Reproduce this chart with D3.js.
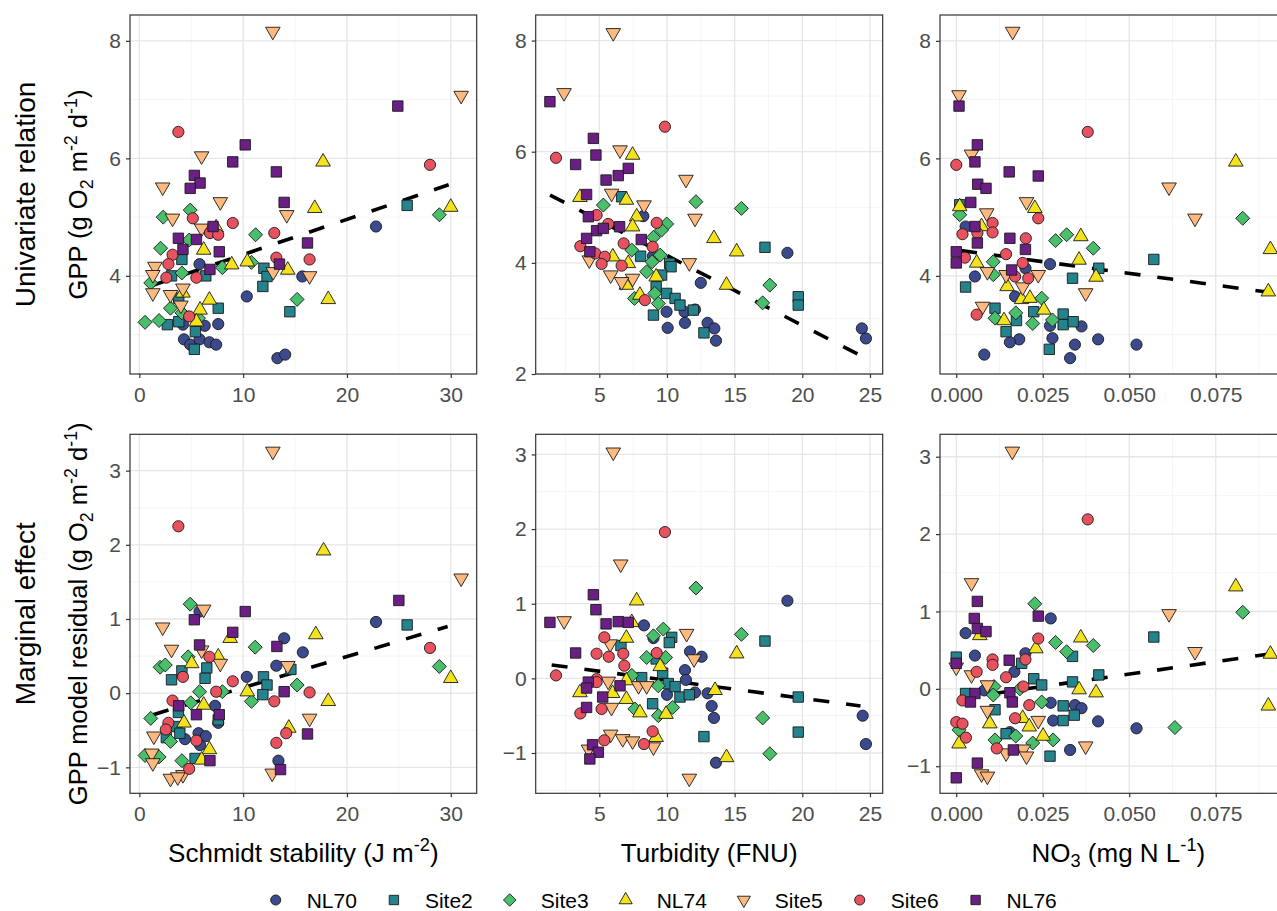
<!DOCTYPE html>
<html>
<head>
<meta charset="utf-8">
<script src="https://cdn.jsdelivr.net/npm/d3@7"></script>
<style>
  body { margin: 0; background: #fff; }
  text { font-family: "Liberation Sans", Arial, sans-serif; white-space: pre; }
</style>
</head>
<body>
<svg id="chart" width="1277" height="911"></svg>
<script>
// sites, in legend order
const siteNames = ["NL70", "Site2", "Site3", "NL74", "Site5", "Site6", "NL76"];
const siteFills = ["#3b4a8c", "#25838e", "#4abf6b", "#f3e21c", "#fdb97e", "#e8525f", "#6b1f84"];
const siteShapes = ["circle", "square", "diamond", "triangle", "triangleDown", "circle", "square"];

// tick values
const schmidtTicks = [0, 10, 20, 30];
const turbidityTicks = [5, 10, 15, 20, 25];
const no3Ticks = [0, 0.025, 0.05, 0.075];
const gppTicks = [4, 6, 8];
const gppTicksTurb = [2, 4, 6, 8];
const residTicks = [-1, 0, 1, 2, 3];

// linear fits (start, end)
const schmidtFit = [[1.3, 3.84], [29.8, 5.55]];
const turbidityFit = [[1.36, 5.22], [24.4, 2.32]];
const no3Fit = [[0.0014, 4.43], [0.0905, 3.72]];
const schmidtResFit = [[1.33, -0.29], [29.7, 0.9]];
const turbidityResFit = [[1.48, 0.18], [24.3, -0.37]];
const no3ResFit = [[0.0014, -0.12], [0.0905, 0.45]];

// [site, x, y]
const schmidtGPP = [
  ["Site5",12.86,8.16],["Site5",31.0,7.07],["NL76",24.9,6.89],["Site6",3.76,6.45],["NL76",10.2,6.23],
  ["Site5",6.0,6.04],["NL74",17.7,5.94],["NL76",9.0,5.94],["Site6",28.0,5.89],["NL76",13.2,5.77],
  ["NL76",5.3,5.71],["NL76",5.85,5.58],["NL76",4.9,5.49],["Site5",2.25,5.51],["NL76",13.95,5.25],
  ["Site5",7.8,5.26],["NL74",16.9,5.15],["Site2",25.8,5.2],["NL74",30.0,5.17],["Site3",28.9,5.04],
  ["Site5",14.2,5.04],["Site3",2.3,5.0],["Site5",3.2,4.98],["Site3",4.9,5.12],["Site6",5.15,4.98],
  ["Site6",9.0,4.9],["Site5",6.0,4.81],["NL76",7.1,4.84],["NL74",7.4,4.82],["Site6",6.8,4.73],
  ["Site6",7.6,4.70],["NL70",22.8,4.84],["Site6",13.0,4.73],["NL76",3.76,4.64],["Site3",4.8,4.61],
  ["NL76",5.5,4.62],["Site3",11.2,4.70],["NL76",16.2,4.56],["Site3",2.05,4.47],["NL74",6.2,4.44],
  ["NL76",4.2,4.45],["NL76",7.7,4.41],["Site6",3.2,4.36],["Site2",4.1,4.28],["Site6",16.4,4.28],
  ["Site6",13.2,4.31],["NL70",5.8,4.2],["Site6",2.8,4.2],["NL76",13.5,4.2],["NL76",6.8,4.11],
  ["Site3",8.0,4.14],["NL74",8.9,4.19],["Site3",10.8,4.23],["NL74",10.4,4.24],["Site2",12.0,4.13],
  ["Site2",12.3,3.99],["Site2",11.9,3.82],["NL74",14.3,4.10],["Site5",12.9,4.07],["NL70",15.7,3.99],
  ["Site5",16.4,4.0],["Site5",1.5,4.16],["Site5",1.3,4.02],["Site6",2.6,3.97],["Site2",3.1,4.0],
  ["Site3",4.1,4.05],["Site6",5.5,3.97],["Site2",6.4,4.0],["Site3",1.1,3.88],["Site5",1.3,3.71],
  ["Site5",4.2,3.79],["Site5",3.0,3.68],["NL74",4.2,3.71],["Site2",3.8,3.62],["NL74",6.75,3.59],
  ["NL70",10.35,3.65],["NL74",18.2,3.6],["Site3",15.2,3.6],["Site3",3.0,3.45],["Site3",4.1,3.37],
  ["Site2",7.6,3.45],["Site2",14.5,3.39],["Site5",4.0,3.50],["NL74",5.85,3.42],["Site3",0.55,3.21],
  ["Site3",1.9,3.24],["Site2",2.7,3.17],["Site2",3.8,3.22],["Site6",4.8,3.31],["Site3",5.7,3.28],
  ["NL70",4.2,3.17],["NL70",6.3,3.15],["NL70",7.6,3.18],["Site2",5.4,3.05],["NL74",5.5,3.22],
  ["NL70",4.3,2.92],["NL70",4.9,2.83],["NL70",5.8,2.92],["NL70",6.75,2.87],["NL70",7.4,2.83],
  ["Site2",5.3,2.75],["NL70",13.3,2.6],["NL70",14.05,2.66]
];

const turbidityGPP = [
  ["Site5",6.03,8.14],["Site5",2.39,7.06],["NL76",1.35,6.9],["Site6",9.85,6.45],["NL76",4.56,6.24],
  ["NL76",4.75,5.94],["Site6",1.8,5.89],["Site5",6.53,6.03],["NL74",7.46,5.94],["NL76",3.25,5.77],
  ["NL76",7.14,5.7],["NL76",6.4,5.57],["NL76",5.5,5.49],["Site5",11.4,5.5],["Site5",5.91,5.25],
  ["NL76",4.06,5.23],["NL74",3.57,5.18],["Site2",6.65,5.19],["NL74",7.0,5.13],["Site3",12.14,5.1],
  ["Site3",15.5,4.98],["Site3",5.3,5.04],["Site5",8.3,5.04],["Site6",4.8,4.86],["Site6",5.66,4.7],
  ["Site5",12.07,4.8],["NL70",8.25,4.84],["NL76",4.19,4.83],["NL74",7.76,4.83],["Site6",9.24,4.72],
  ["Site3",9.98,4.7],["Site3",9.6,4.59],["Site3",9.0,4.46],["NL76",4.8,4.58],["NL76",5.3,4.62],
  ["NL76",6.5,4.65],["NL74",7.46,4.65],["NL74",13.47,4.44],["NL76",4.06,4.44],["NL76",8.1,4.42],
  ["Site6",3.6,4.3],["Site6",6.8,4.35],["Site6",8.94,4.29],["Site3",7.4,4.23],["Site3",9.5,4.14],
  ["NL74",15.15,4.2],["Site2",17.24,4.28],["NL70",18.9,4.18],["NL76",4.3,4.2],["Site6",4.7,4.17],
  ["Site6",5.4,4.11],["NL74",6.0,4.11],["NL70",8.96,4.12],["Site2",8.05,4.12],["Site6",5.17,3.98],
  ["Site6",6.65,3.95],["NL74",7.14,3.99],["Site5",4.26,4.05],["Site2",10.2,3.99],["Site2",10.3,3.93],
  ["Site5",11.65,4.0],["Site3",8.5,3.84],["Site3",8.9,4.02],["Site2",9.6,3.78],["Site5",5.84,3.78],
  ["Site5",7.46,3.72],["NL74",9.2,3.75],["NL70",12.5,3.64],["NL74",14.4,3.6],["NL74",7.0,3.6],
  ["Site5",6.65,3.66],["Site3",17.6,3.6],["Site2",9.2,3.57],["Site3",9.1,3.45],["Site3",9.36,3.27],
  ["Site3",7.6,3.36],["Site6",8.37,3.33],["NL74",8.0,3.42],["Site2",9.97,3.45],["Site2",10.6,3.36],
  ["Site2",10.96,3.24],["Site2",11.95,3.15],["Site2",19.7,3.39],["Site2",19.7,3.24],["Site3",17.07,3.28],
  ["NL70",9.97,3.12],["NL70",11.3,3.12],["NL70",12.07,3.16],["Site2",9.0,3.06],["NL70",10.05,2.83],
  ["NL70",11.33,2.92],["NL70",13.0,2.92],["NL70",13.5,2.82],["NL70",13.62,2.6],["Site2",12.73,2.74],
  ["NL70",24.4,2.82],["NL70",24.7,2.64]
];

const no3GPP = [
  ["Site5",0.0163,8.16],["Site5",0.0008,7.08],["NL76",0.0008,6.89],["Site6",0.038,6.45],["NL76",0.0061,6.23],
  ["Site5",0.0044,6.07],["NL76",0.0054,5.94],["Site6",0.0,5.89],["NL74",0.0808,5.94],["NL76",0.0153,5.77],
  ["NL76",0.0237,5.7],["NL76",0.0062,5.56],["NL76",0.0086,5.49],["Site5",0.0615,5.51],["NL76",0.0042,5.25],
  ["Site2",0.001,5.21],["NL74",0.001,5.18],["Site3",0.001,5.04],["Site5",0.0203,5.26],["NL74",0.0227,5.15],
  ["Site6",0.0237,4.98],["Site5",0.0088,5.07],["Site5",0.069,4.98],["Site3",0.0828,4.98],["Site6",0.0105,4.9],
  ["Site6",0.0105,4.74],["NL70",0.0027,4.84],["NL76",0.0054,4.84],["NL74",0.0073,4.84],["Site6",0.0018,4.71],
  ["Site6",0.0061,4.73],["NL76",0.0061,4.56],["Site3",0.0287,4.6],["Site3",0.0319,4.7],["NL74",0.036,4.67],
  ["Site6",0.0201,4.64],["NL76",0.0155,4.64],["Site3",0.0396,4.47],["NL76",0.02,4.45],["NL76",0.0,4.41],
  ["NL76",0.0,4.22],["Site6",0.0025,4.31],["Site6",0.0144,4.37],["Site2",0.0571,4.28],["NL74",0.0908,4.45],
  ["NL74",0.0059,4.22],["NL74",0.0355,4.27],["Site3",0.0107,4.24],["NL70",0.0271,4.2],["Site6",0.0192,4.22],
  ["Site6",0.017,3.99],["Site6",0.0208,3.96],["NL76",0.016,4.1],["NL70",0.02,4.13],["Site5",0.009,4.07],
  ["Site5",0.0144,4.02],["Site5",0.0237,4.02],["Site3",0.0107,4.02],["Site2",0.0412,4.13],["Site2",0.0336,3.96],
  ["NL74",0.0404,3.98],["NL70",0.0054,3.99],["Site2",0.0027,3.81],["NL74",0.0147,3.82],["Site5",0.0192,3.81],
  ["Site5",0.0374,3.71],["NL70",0.017,3.65],["NL74",0.0189,3.6],["NL74",0.0213,3.62],["Site3",0.0247,3.62],
  ["Site5",0.0076,3.48],["Site2",0.0112,3.45],["Site3",0.0112,3.28],["Site6",0.0059,3.34],["Site3",0.0172,3.37],
  ["Site2",0.0224,3.39],["Site2",0.0309,3.35],["Site2",0.0309,3.17],["Site2",0.0338,3.22],["NL74",0.0253,3.42],
  ["NL74",0.0138,3.24],["Site3",0.0278,3.25],["Site3",0.0221,3.19],["Site2",0.0174,3.24],["Site2",0.0144,3.05],
  ["NL70",0.0271,3.15],["NL70",0.0362,3.14],["NL70",0.0182,2.92],["NL70",0.0155,2.87],["NL70",0.0278,2.94],
  ["NL70",0.041,2.92],["NL70",0.0521,2.83],["Site2",0.0269,2.75],["NL70",0.0343,2.83],["NL70",0.0329,2.6],
  ["NL70",0.0081,2.66],["NL74",0.0902,3.73]
];

const schmidtRes = [
  ["Site5",12.86,3.26],["Site6",3.76,2.25],["NL74",17.75,1.92],["Site5",31.0,1.55],["NL76",25.0,1.25],
  ["Site3",4.9,1.2],["NL70",5.8,1.1],["Site5",6.2,1.13],["NL76",10.2,1.1],["NL76",5.3,0.99],
  ["NL70",22.8,0.96],["Site2",25.8,0.92],["Site5",2.25,0.89],["NL76",9.0,0.82],["NL74",8.75,0.74],
  ["NL74",17.0,0.79],["NL70",13.95,0.74],["Site6",28.0,0.61],["Site3",11.16,0.62],["NL76",13.25,0.63],
  ["Site5",3.1,0.59],["NL76",5.8,0.65],["Site5",6.0,0.58],["NL70",15.75,0.55],["Site3",4.7,0.49],
  ["Site6",6.75,0.49],["NL74",7.6,0.49],["Site5",7.8,0.4],["NL74",5.05,0.4],["Site3",2.0,0.35],
  ["Site3",2.5,0.38],["Site2",4.1,0.3],["Site2",6.5,0.34],["Site3",28.9,0.36],["NL74",30.0,0.2],
  ["NL70",13.2,0.37],["Site5",14.3,0.37],["Site2",14.6,0.32],["Site2",3.1,0.18],["Site6",4.2,0.22],
  ["Site2",6.33,0.2],["NL70",10.35,0.22],["Site6",9.0,0.16],["Site2",11.96,0.22],["Site2",12.3,0.11],
  ["Site2",11.9,-0.02],["Site3",15.2,0.11],["Site3",5.8,0.02],["Site6",7.4,0.02],["Site3",8.0,0.02],
  ["NL74",10.4,0.02],["NL76",13.95,0.02],["Site6",16.4,0.01],["Site3",10.8,-0.11],["Site6",3.2,-0.1],
  ["Site6",13.0,-0.11],["Site3",4.95,-0.13],["NL74",6.2,-0.16],["NL74",18.2,-0.11],["NL70",7.3,-0.17],
  ["NL76",3.8,-0.17],["Site2",3.76,-0.26],["Site5",16.4,-0.34],["NL76",5.5,-0.29],["NL76",7.7,-0.29],
  ["NL70",7.6,-0.4],["Site2",7.6,-0.36],["Site3",1.1,-0.34],["NL74",4.3,-0.4],["Site6",2.8,-0.4],
  ["Site6",2.55,-0.49],["Site2",3.6,-0.45],["Site2",3.9,-0.54],["NL74",14.4,-0.47],["Site6",14.15,-0.54],
  ["NL76",16.2,-0.55],["Site5",1.4,-0.58],["Site2",2.6,-0.6],["NL70",5.7,-0.54],["NL70",6.4,-0.58],
  ["NL70",4.4,-0.62],["Site6",5.5,-0.64],["Site3",3.0,-0.65],["NL70",5.85,-0.7],["Site6",13.2,-0.67],
  ["NL74",6.75,-0.76],["Site3",0.55,-0.84],["Site3",1.9,-0.86],["Site5",1.2,-0.81],["Site5",1.3,-0.94],
  ["Site3",4.1,-0.91],["Site2",5.37,-0.88],["NL74",6.0,-0.9],["NL76",6.8,-0.91],["NL70",13.4,-0.91],
  ["Site6",4.8,-1.02],["Site5",3.0,-1.15],["Site5",4.2,-1.1],["Site5",3.7,-1.13],["Site5",12.8,-1.08],
  ["NL76",13.6,-1.03]
];

const turbidityRes = [
  ["Site5",6.03,3.03],["Site6",9.85,1.96],["Site5",6.58,1.53],["Site3",12.14,1.21],["NL76",4.56,1.12],
  ["NL70",18.9,1.04],["NL74",7.76,1.04],["NL76",4.75,0.92],["NL76",1.35,0.75],["Site5",2.4,0.77],
  ["NL76",5.5,0.73],["NL76",6.4,0.76],["NL76",7.14,0.75],["NL74",7.4,0.75],["NL70",8.3,0.71],
  ["Site5",11.45,0.6],["Site3",9.73,0.66],["Site3",9.0,0.57],["NL70",9.0,0.54],["Site2",10.35,0.55],
  ["Site2",10.17,0.48],["Site3",15.5,0.59],["Site2",17.24,0.5],["Site6",5.37,0.55],["NL74",7.0,0.54],
  ["Site5",5.8,0.46],["Site2",6.6,0.44],["NL70",11.7,0.36],["Site6",4.8,0.33],["Site6",5.7,0.29],
  ["Site6",6.77,0.33],["Site6",9.24,0.34],["NL74",15.15,0.33],["NL70",12.56,0.29],["NL76",3.25,0.34],
  ["Site3",8.5,0.28],["Site3",9.9,0.28],["Site2",9.2,0.26],["Site5",12.0,0.26],["Site6",6.85,0.17],
  ["NL74",9.5,0.16],["NL70",11.33,0.11],["Site2",9.68,0.07],["Site3",7.4,0.04],["Site6",1.8,0.04],
  ["Site2",8.13,0.01],["Site6",4.8,-0.01],["Site6",4.8,-0.05],["NL70",11.4,-0.02],["Site5",5.66,-0.04],
  ["NL76",4.19,-0.05],["NL76",4.06,-0.13],["NL76",6.53,-0.1],["NL74",7.0,-0.03],["Site5",7.9,-0.1],
  ["Site5",8.5,-0.1],["Site2",10.1,-0.07],["Site2",10.6,-0.11],["Site3",9.36,-0.1],["NL74",13.55,-0.16],
  ["NL70",12.07,-0.19],["NL70",13.0,-0.2],["NL70",10.0,-0.22],["Site2",10.96,-0.25],["Site2",11.65,-0.22],
  ["NL74",3.57,-0.19],["NL74",5.98,-0.2],["NL76",5.25,-0.25],["Site5",5.9,-0.39],["NL74",7.0,-0.28],
  ["Site2",19.7,-0.25],["Site2",8.94,-0.34],["NL70",13.3,-0.37],["NL76",4.06,-0.39],["Site6",5.17,-0.41],
  ["Site3",7.63,-0.41],["Site3",10.42,-0.39],["Site6",3.6,-0.47],["NL74",8.0,-0.46],["NL74",9.93,-0.48],
  ["Site3",9.36,-0.5],["NL70",24.46,-0.5],["NL70",13.47,-0.53],["Site3",17.07,-0.53],["Site6",8.94,-0.71],
  ["Site2",12.73,-0.78],["Site5",5.84,-0.75],["Site5",6.73,-0.81],["Site5",7.46,-0.84],["NL74",9.2,-0.79],
  ["Site5",9.0,-0.92],["Site6",5.37,-0.83],["Site6",8.3,-0.88],["Site2",19.7,-0.72],["NL70",24.7,-0.88],
  ["NL76",4.5,-0.89],["NL76",4.93,-0.99],["NL76",4.3,-1.08],["Site5",4.2,-0.95],["Site3",17.6,-1.01],
  ["NL74",14.4,-1.06],["NL70",13.62,-1.13],["Site5",11.65,-1.34]
];

const no3Res = [
  ["Site5",0.0162,3.07],["Site6",0.038,2.19],["Site5",0.0044,1.37],["NL74",0.0808,1.32],["NL76",0.0061,1.13],
  ["Site3",0.0227,1.1],["Site3",0.0828,0.99],["Site5",0.0615,0.97],["NL76",0.0052,0.91],["NL70",0.0273,0.91],
  ["NL76",0.0237,0.94],["NL70",0.0027,0.72],["NL76",0.0061,0.78],["NL76",0.0086,0.74],["NL74",0.0068,0.69],
  ["Site2",0.0571,0.67],["NL74",0.036,0.66],["Site6",0.0237,0.65],["Site3",0.0287,0.6],["Site3",0.0319,0.48],
  ["Site3",0.0396,0.56],["NL74",0.023,0.52],["Site5",0.069,0.48],["NL74",0.0908,0.45],["NL70",0.0054,0.43],
  ["Site2",0.0,0.41],["NL76",0.0,0.33],["Site5",0.0,0.28],["Site2",0.0336,0.42],["Site6",0.0105,0.38],
  ["Site6",0.0105,0.31],["NL76",0.0153,0.37],["NL70",0.02,0.46],["Site6",0.02,0.38],["Site2",0.0189,0.33],
  ["Site6",0.0059,0.22],["NL70",0.0168,0.22],["Site5",0.0044,0.18],["Site2",0.0412,0.18],["Site6",0.0144,0.15],
  ["Site2",0.0224,0.13],["Site2",0.0247,0.05],["Site2",0.0336,0.09],["NL74",0.0355,-0.01],["NL74",0.0404,-0.05],
  ["Site6",0.0194,0.03],["Site5",0.009,0.05],["Site3",0.0109,0.03],["Site3",0.0184,0.0],["NL70",0.0081,-0.02],
  ["NL76",0.0155,-0.05],["Site2",0.0027,-0.06],["NL76",0.0054,-0.06],["Site3",0.0107,-0.08],["Site6",0.0018,-0.15],
  ["NL76",0.0041,-0.17],["NL76",0.0162,-0.17],["Site3",0.0247,-0.17],["NL70",0.0273,-0.18],["Site6",0.0211,-0.21],
  ["Site2",0.0309,-0.22],["Site2",0.0341,-0.34],["Site2",0.0309,-0.41],["NL70",0.0343,-0.21],["NL70",0.0362,-0.25],
  ["Site2",0.0112,-0.27],["Site5",0.009,-0.28],["Site5",0.0237,-0.41],["NL74",0.0192,-0.38],["Site6",0.017,-0.38],
  ["NL70",0.028,-0.41],["NL70",0.041,-0.42],["Site6",0.0,-0.43],["Site6",0.0018,-0.45],["NL74",0.0097,-0.45],
  ["NL74",0.0211,-0.49],["Site3",0.0008,-0.53],["NL70",0.0521,-0.51],["Site3",0.0632,-0.5],["Site6",0.0028,-0.63],
  ["NL70",0.0155,-0.56],["Site2",0.0144,-0.58],["Site3",0.0172,-0.61],["NL74",0.0251,-0.61],["Site3",0.0112,-0.66],
  ["Site3",0.0221,-0.7],["Site3",0.028,-0.66],["Site5",0.0374,-0.74],["NL74",0.0008,-0.71],["Site6",0.0117,-0.77],
  ["Site5",0.0144,-0.83],["Site5",0.0194,-0.78],["Site5",0.0203,-0.87],["NL76",0.0165,-0.79],["NL70",0.0329,-0.79],
  ["Site2",0.0271,-0.87],["NL76",0.0061,-0.96],["Site5",0.0073,-1.1],["Site5",0.009,-1.13],["NL76",0.0,-1.15],
  ["NL74",0.0902,-0.22]
];

// axis titles: [text, "n" | "sup" | "sub"]
const gppTitle = [["GPP (g O","n"],["2","sub"],[" m","n"],["-2","sup"],[" d","n"],["-1","sup"],[")","n"]];
const residTitle = [["GPP model residual (g O","n"],["2","sub"],[" m","n"],["-2","sup"],[" d","n"],["-1","sup"],[")","n"]];
const xTitles = [
  [["Schmidt stability (J m","n"],["-2","sup"],[")","n"]],
  [["Turbidity (FNU)","n"]],
  [["NO","n"],["3","sub"],[" (mg N L","n"],["-1","sup"],[")","n"]]
];
const rowTitles = ["Univariate relation", "Marginal effect"];

// layout
const colX = [130, 535.7, 940];
const colW = [346.7, 347, 356.7];
const rowY = [15, 434.3];
const rowH = 359;

const fmtInt = d3.format("d");
const fmtNo3 = d3.format(".3f");

const panels = [
  { col: 0, row: 0, data: schmidtGPP, fit: schmidtFit, xDom: [-0.9, 32.5], yDom: [2.33, 8.44], xt: schmidtTicks, yt: gppTicks, fx: fmtInt },
  { col: 1, row: 0, data: turbidityGPP, fit: turbidityFit, xDom: [0.3, 25.94], yDom: [2.0, 8.46], xt: turbidityTicks, yt: gppTicksTurb, fx: fmtInt },
  { col: 2, row: 0, data: no3GPP, fit: no3Fit, xDom: [-0.0047, 0.0984], yDom: [2.33, 8.44], xt: no3Ticks, yt: gppTicks, fx: fmtNo3 },
  { col: 0, row: 1, data: schmidtRes, fit: schmidtResFit, xDom: [-0.9, 32.5], yDom: [-1.35, 3.49], xt: schmidtTicks, yt: residTicks, fx: fmtInt },
  { col: 1, row: 1, data: turbidityRes, fit: turbidityResFit, xDom: [0.3, 25.94], yDom: [-1.54, 3.27], xt: turbidityTicks, yt: residTicks, fx: fmtInt },
  { col: 2, row: 1, data: no3Res, fit: no3ResFit, xDom: [-0.0047, 0.0984], yDom: [-1.35, 3.29], xt: no3Ticks, yt: residTicks, fx: fmtNo3 }
];

const svg = d3.select("#chart");
const fillOf = d3.scaleOrdinal().domain(siteNames).range(siteFills);
const shapeOf = d3.scaleOrdinal().domain(siteNames).range(siteShapes);

function markPath(shape, k) {
  if (shape === "circle") return d3.symbol(d3.symbolCircle, Math.PI * 5.6 * 5.6 * k * k)();
  if (shape === "square") return d3.symbol(d3.symbolSquare, 10.4 * 10.4 * k * k)();
  if (shape === "diamond") {
    const r = 7 * k;
    return `M0,${-r}L${r},0L0,${r}L${-r},0Z`;
  }
  const h = 7.3 * k, t = 8.4 * k, b = 4.2 * k;
  if (shape === "triangle") return `M0,${-t}L${h},${b}L${-h},${b}Z`;
  return `M0,${t}L${h},${-b}L${-h},${-b}Z`;
}

function richText(sel, parts, size) {
  let shift = 0;
  parts.forEach(([s, kind]) => {
    const target = kind === "sup" ? -0.4 * size : kind === "sub" ? 0.22 * size : 0;
    sel.append("tspan")
      .attr("dy", target - shift)
      .attr("font-size", kind === "n" ? size : size * 0.7)
      .text(s);
    shift = target;
  });
}

// minor gridline positions: midpoints of the major ticks, inside the domain
function minorTicks(ticks, dom) {
  const step = ticks[1] - ticks[0];
  const out = [];
  for (let v = ticks[0] - step / 2; v <= dom[1]; v += step) {
    if (v >= dom[0]) out.push(v);
  }
  return out;
}

panels.forEach(p => {
  const x0 = colX[p.col], x1 = colX[p.col] + colW[p.col];
  const y0 = rowY[p.row], y1 = rowY[p.row] + rowH;
  const x = d3.scaleLinear().domain(p.xDom).range([x0, x1]);
  const y = d3.scaleLinear().domain(p.yDom).range([y1, y0]);
  const g = svg.append("g");

  const grid = g.append("g");
  grid.selectAll(".vmin").data(minorTicks(p.xt, p.xDom)).join("line")
    .attr("x1", d => x(d)).attr("x2", d => x(d)).attr("y1", y0).attr("y2", y1)
    .attr("stroke", "#f2f2f2").attr("stroke-width", 0.8);
  grid.selectAll(".hmin").data(minorTicks(p.yt, p.yDom)).join("line")
    .attr("y1", d => y(d)).attr("y2", d => y(d)).attr("x1", x0).attr("x2", x1)
    .attr("stroke", "#f2f2f2").attr("stroke-width", 0.8);
  grid.selectAll(".vmaj").data(p.xt).join("line")
    .attr("x1", d => x(d)).attr("x2", d => x(d)).attr("y1", y0).attr("y2", y1)
    .attr("stroke", "#e6e6e6").attr("stroke-width", 1.3);
  grid.selectAll(".hmaj").data(p.yt).join("line")
    .attr("y1", d => y(d)).attr("y2", d => y(d)).attr("x1", x0).attr("x2", x1)
    .attr("stroke", "#e6e6e6").attr("stroke-width", 1.3);

  g.append("path")
    .datum(p.fit)
    .attr("d", d3.line().x(d => x(d[0])).y(d => y(d[1])))
    .attr("fill", "none")
    .attr("stroke", "#000")
    .attr("stroke-width", 3.6)
    .attr("stroke-dasharray", "16 17");

  const pts = p.data.slice().sort((a, b) => siteNames.indexOf(a[0]) - siteNames.indexOf(b[0]));
  g.append("g").selectAll("path").data(pts).join("path")
    .attr("transform", d => `translate(${x(d[1])},${y(d[2])})`)
    .attr("d", d => markPath(shapeOf(d[0]), 1))
    .attr("fill", d => fillOf(d[0]))
    .attr("stroke", "#1a1a1a")
    .attr("stroke-width", 0.9);

  g.append("rect")
    .attr("x", x0).attr("y", y0).attr("width", x1 - x0).attr("height", rowH)
    .attr("fill", "none").attr("stroke", "#333").attr("stroke-width", 1.2);

  const ax = g.append("g").attr("transform", `translate(0,${y1})`)
    .call(d3.axisBottom(x).tickValues(p.xt).tickFormat(p.fx).tickSize(4).tickPadding(9));
  const ay = g.append("g").attr("transform", `translate(${x0},0)`)
    .call(d3.axisLeft(y).tickValues(p.yt).tickFormat(fmtInt).tickSize(4).tickPadding(5));
  [ax, ay].forEach(a => {
    a.select(".domain").remove();
    a.selectAll(".tick line").attr("stroke", "#333").attr("stroke-width", 1.2);
    a.selectAll(".tick text").attr("fill", "#4d4d4d").attr("font-size", 21)
      .attr("font-family", "Liberation Sans, Arial, sans-serif");
  });
});

// y titles
[gppTitle, residTitle].forEach((parts, i) => {
  const cy = rowY[i] + rowH / 2;
  const t = svg.append("text")
    .attr("transform", `translate(87,${cy}) rotate(-90)`)
    .attr("text-anchor", "middle")
    .attr("fill", "#000");
  richText(t, parts, 25.5);
  svg.append("text")
    .attr("transform", `translate(34.5,${cy}) rotate(-90)`)
    .attr("text-anchor", "middle")
    .attr("font-size", 28)
    .attr("fill", "#000")
    .text(rowTitles[i]);
});

// x titles
xTitles.forEach((parts, i) => {
  const t = svg.append("text")
    .attr("x", colX[i] + colW[i] / 2)
    .attr("y", 861.5)
    .attr("text-anchor", "middle")
    .attr("fill", "#000");
  richText(t, parts, 26);
});

// legend
const legend = svg.append("g");
let lx = 275.7;
siteNames.forEach((name, i) => {
  legend.append("path")
    .attr("transform", `translate(${lx},900)`)
    .attr("d", markPath(siteShapes[i], 0.9))
    .attr("fill", siteFills[i])
    .attr("stroke", "#1a1a1a")
    .attr("stroke-width", 0.9);
  const t = legend.append("text")
    .attr("x", lx + 31)
    .attr("y", 907.5)
    .attr("font-size", 21)
    .attr("fill", "#000")
    .text(name);
  lx += 31 + t.node().getComputedTextLength() + 37;
});
</script>
</body>
</html>
